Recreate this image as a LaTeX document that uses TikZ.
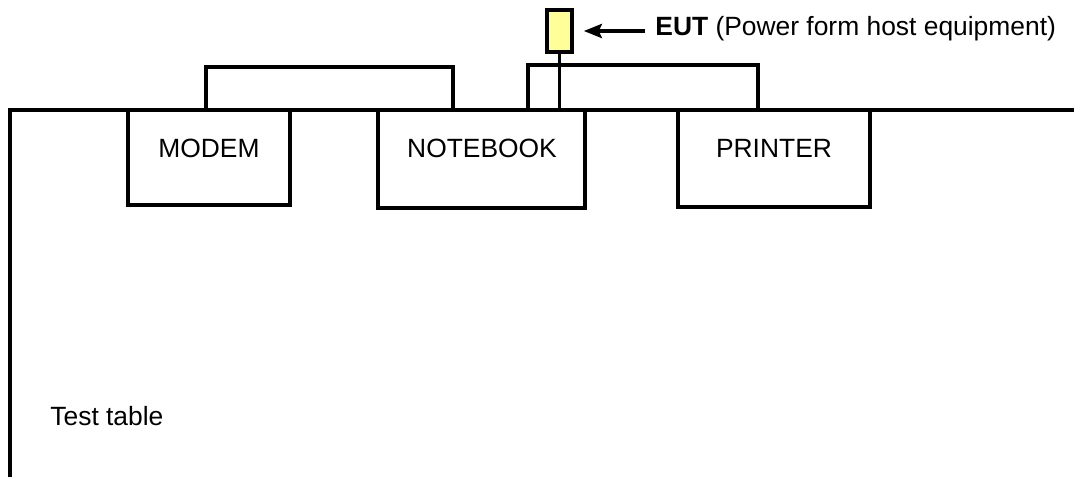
\documentclass[tikz,border=0pt]{standalone}
\usepackage{fontspec}
\setmainfont{Liberation Sans}
\usetikzlibrary{arrows.meta,calc}
\definecolor{eutyellow}{HTML}{FFFF99}
\tikzset{
  wire/.style={line width=1.8pt, line join=miter},
  devbox/.style={draw, line width=1.8pt, fill=white, inner sep=0pt},
  devtext/.style={inner sep=0pt, anchor=base, font=\fontsize{13.2}{15}\selectfont},
  eutbox/.style={draw, line width=1.8pt, fill=eutyellow, inner sep=0pt, minimum width=12.5pt, minimum height=21pt},
  pointer/.style={line width=1.8pt, -{Stealth[length=9pt,width=7pt,inset=1.5pt]}}
}
\begin{document}
\begin{tikzpicture}[x=0.5pt,y=-0.5pt]
\useasboundingbox (0,0) rectangle (1074,477);
% table
\draw[wire] (10,477) -- (10,110) -- (1074,110);
% cables
\draw[wire] (206,110) -- (206,67) -- (453,67) -- (453,110);
\draw[wire] (528,110) -- (528,65) -- (758,65) -- (758,110);
% devices
\node[devbox, minimum width=81pt, minimum height=47.5pt] (modem) at (209,157.5) {};
\node[devbox, minimum width=103.5pt, minimum height=49pt] (notebook) at (481.5,159) {};
\node[devbox, minimum width=96pt, minimum height=48.5pt] (printer) at (774,158.5) {};
\node[devtext] (modemtxt) at (209,157) {MODEM};
\node[devtext] (notebooktxt) at (482,157) {NOTEBOOK};
\node[devtext] (printertxt) at (774,157) {PRINTER};
% EUT
\node[eutbox] (eut) at (559.5,31) {};
\coordinate (eutfoot) at (559.5,110);
\draw[wire] (eut.south) -- (eutfoot);
\node[devtext, anchor=base west] (eutlbl) at (655,35) {\textbf{EUT} (Power form host equipment)};
\draw[pointer, shorten <=5pt, shorten >=5pt] (eutlbl.west |- eut.east) -- (eut.east);
% label
\node[devtext, anchor=base west] (tabletxt) at (50,425) {Test table};
\end{tikzpicture}
\end{document}
